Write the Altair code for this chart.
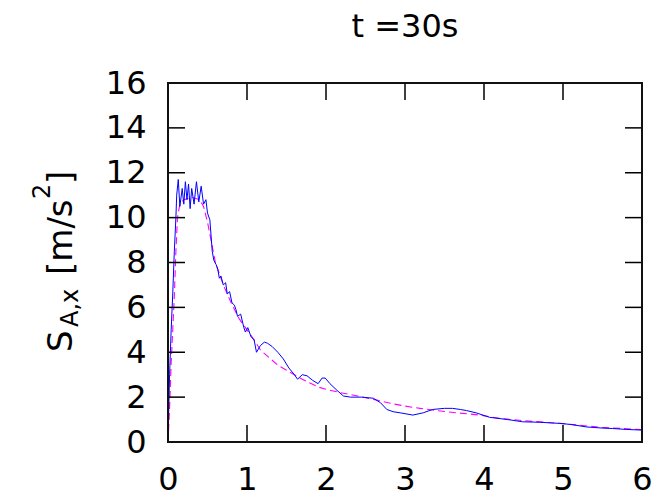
import altair as alt
import pandas as pd

# ---- data ----
blue_x = [0.0, 0.01, 0.02, 0.04, 0.06, 0.08, 0.10, 0.11, 0.13, 0.15, 0.18, 0.20, 0.22, 0.24,
          0.26, 0.28, 0.30, 0.33, 0.36, 0.39, 0.42, 0.45, 0.48, 0.50, 0.53, 0.56, 0.58, 0.61,
          0.63, 0.65, 0.67, 0.70, 0.73, 0.75, 0.78, 0.81, 0.84, 0.86, 0.88, 0.92, 0.96, 0.98,
          1.01, 1.05, 1.09, 1.12, 1.17, 1.22, 1.26, 1.32, 1.39, 1.46, 1.53, 1.60, 1.64, 1.70,
          1.76, 1.83, 1.90, 1.95, 1.99, 2.05, 2.14, 2.22, 2.31, 2.45, 2.60, 2.69, 2.77, 2.85,
          2.94, 3.10, 3.23, 3.35, 3.50, 3.60, 3.70, 3.78, 3.90, 4.07, 4.30, 4.49, 4.70, 4.96,
          5.10, 5.30, 5.50, 5.63, 5.80, 6.00]
blue_y = [0.2, 1.5, 3.0, 5.0, 6.6, 8.5, 10.0, 11.0, 11.7, 10.5, 11.3, 10.6, 11.6, 10.8,
          11.5, 10.4, 11.3, 10.6, 11.6, 10.7, 11.4, 10.6, 10.8, 10.2, 9.9, 8.5, 8.1, 7.9,
          7.7, 7.3, 7.4, 7.0, 7.1, 6.6, 6.7, 6.2, 6.1, 5.9, 5.6, 5.7, 5.1, 4.9,
          5.1, 4.7, 4.55, 4.0, 4.3, 4.45, 4.4, 4.25, 4.0, 3.7, 3.3, 3.0, 2.8, 3.0,
          2.95, 2.75, 2.6, 2.85, 2.85, 2.6, 2.3, 2.05, 2.0, 2.0, 1.95, 1.75, 1.45, 1.35,
          1.3, 1.2, 1.3, 1.45, 1.5, 1.5, 1.45, 1.4, 1.3, 1.1, 1.0, 0.9, 0.88, 0.83,
          0.78, 0.67, 0.62, 0.6, 0.56, 0.53]

mag_x = [0.0, 0.02, 0.04, 0.06, 0.08, 0.10, 0.12, 0.15, 0.20, 0.30, 0.40, 0.45, 0.50, 0.55,
         0.60, 0.70, 0.80, 0.90, 1.00, 1.10, 1.17, 1.30, 1.40, 1.55, 1.70, 1.90, 2.00, 2.18,
         2.40, 2.60, 2.85, 3.00, 3.19, 3.40, 3.66, 3.95, 4.20, 4.50, 5.00, 5.50, 6.00]
mag_y = [0.0, 1.5, 3.5, 5.0, 6.5, 8.5, 10.0, 10.6, 10.8, 10.9, 10.8, 10.5, 9.8, 8.9,
         8.0, 7.0, 6.2, 5.5, 5.0, 4.5, 4.1, 3.7, 3.4, 3.1, 2.8, 2.45, 2.35, 2.2,
         2.05, 1.9, 1.7, 1.6, 1.5, 1.4, 1.3, 1.2, 1.05, 0.95, 0.82, 0.65, 0.55]

x_ticks = [0, 1, 2, 3, 4, 5, 6]
y_ticks = [0, 2, 4, 6, 8, 10, 12, 14, 16]
title_text = ["t =30s"]
y_title_parts = ["S", "A,x", "[m/s", "2", "]"]

FONT = "DejaVu Sans"
W, H = 474, 359
TICK = 17

blue_df = pd.DataFrame({"x": blue_x, "y": blue_y})
mag_df = pd.DataFrame({"x": mag_x, "y": mag_y})
xt_df = pd.DataFrame({"t": x_ticks})
yt_df = pd.DataFrame({"t": y_ticks})

xscale = alt.Scale(domain=[0, 6], nice=False, zero=False)
yscale = alt.Scale(domain=[0, 16], nice=False, zero=False)

xaxis = alt.Axis(values=x_ticks, format="d", title=None, grid=False, ticks=False, tickSize=0,
                 domain=False, labelFont=FONT, labelFontSize=32, labelPadding=22,
                 labelColor="#000", labelFlush=False)
yaxis = alt.Axis(values=y_ticks, format="d", title=None, grid=False, ticks=False, tickSize=0,
                 domain=False, labelFont=FONT, labelFontSize=32, labelPadding=22,
                 labelColor="#000")

blue = alt.Chart(blue_df).mark_line(color="#0000ff", strokeWidth=1.0).encode(
    x=alt.X("x:Q", scale=xscale, axis=xaxis),
    y=alt.Y("y:Q", scale=yscale, axis=yaxis),
)
mag = alt.Chart(mag_df).mark_line(color="#ff00ff", strokeWidth=1.1, strokeDash=[7, 4]).encode(
    x=alt.X("x:Q", scale=xscale),
    y=alt.Y("y:Q", scale=yscale),
)

tick_style = dict(color="#000", strokeWidth=1.5)
bt = alt.Chart(xt_df).mark_rule(**tick_style).encode(
    x=alt.X("t:Q", scale=xscale), y=alt.value(H), y2=alt.value(H - TICK))
tt = alt.Chart(xt_df).mark_rule(**tick_style).encode(
    x=alt.X("t:Q", scale=xscale), y=alt.value(0), y2=alt.value(TICK))
lt = alt.Chart(yt_df).mark_rule(**tick_style).encode(
    y=alt.Y("t:Q", scale=yscale), x=alt.value(0), x2=alt.value(TICK))
rt = alt.Chart(yt_df).mark_rule(**tick_style).encode(
    y=alt.Y("t:Q", scale=yscale), x=alt.value(W), x2=alt.value(W - TICK))

border_style = dict(color="#111", strokeWidth=2)
b_left = alt.Chart(pd.DataFrame({"s": [0]})).mark_rule(**border_style).encode(
    x=alt.value(0), y=alt.value(-1), y2=alt.value(H + 1))
b_right = alt.Chart(pd.DataFrame({"s": [0]})).mark_rule(**border_style).encode(
    x=alt.value(W), y=alt.value(-1), y2=alt.value(H + 1))
b_top = alt.Chart(pd.DataFrame({"s": [0]})).mark_rule(**border_style).encode(
    y=alt.value(0), x=alt.value(-1), x2=alt.value(W + 1))
b_bot = alt.Chart(pd.DataFrame({"s": [0]})).mark_rule(**border_style).encode(
    y=alt.value(H), x=alt.value(-1), x2=alt.value(W + 1))

# y-axis title pieces (main, subscript, main, superscript, main)
piece_pos = [(-96, 269, 34), (-90, 244, 24), (-96, 192, 34), (-118, 116, 24), (-96, 101, 34)]
pieces = []
for txt, (px, py, fs) in zip(y_title_parts, piece_pos):
    pieces.append(
        alt.Chart(pd.DataFrame({"s": [txt]})).mark_text(
            font=FONT, fontSize=fs, angle=270, align="left", baseline="alphabetic", color="#000"
        ).encode(text="s:N", x=alt.value(px), y=alt.value(py))
    )

title = alt.Chart(pd.DataFrame({"s": title_text})).mark_text(
    font=FONT, fontSize=32, align="center", baseline="alphabetic", color="#000"
).encode(text="s:N", x=alt.value(W / 2), y=alt.value(-46))

chart = alt.layer(mag, blue, bt, tt, lt, rt, b_left, b_right, b_top, b_bot,
                  *pieces, title).properties(
    width=W, height=H,
    autosize=alt.AutoSizeParams(type="none"),
    padding={"left": 160, "top": 75, "right": 12, "bottom": 56},
).configure_view(stroke=None).configure(background="white")

chart.save("out.html", embed_options={"renderer": "svg", "actions": False})
